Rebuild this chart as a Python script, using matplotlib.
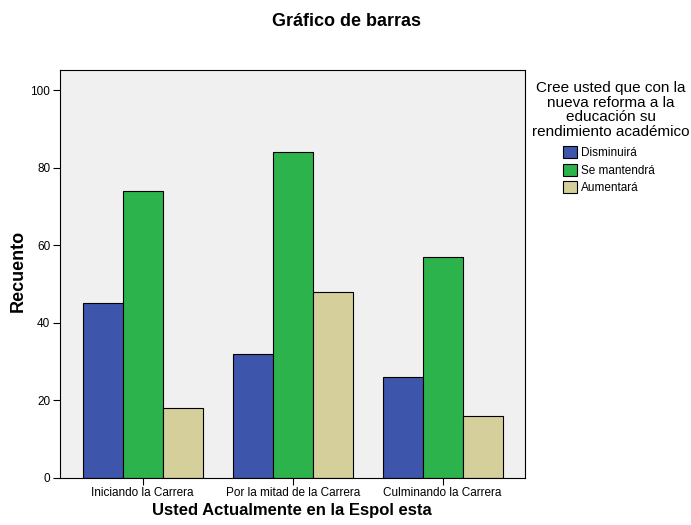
import numpy as np
import matplotlib
matplotlib.use('Agg')
import matplotlib.pyplot as plt

plt.rcParams['font.family'] = ['Liberation Sans', 'DejaVu Sans']

# Data
categories = ['Iniciando la Carrera', 'Por la mitad de la Carrera', 'Culminando la Carrera']
series_names = ['Disminuirá', 'Se mantendrá', 'Aumentará']
disminuira = [45, 32, 26]
se_mantendra = [74, 84, 57]
aumentara = [18, 48, 16]
colors = ['#3D55AB', '#2DB34B', '#D5D09B']

W, H = 691, 525
fig = plt.figure(figsize=(W / 100, H / 100), dpi=100)
ax = fig.add_axes([60 / W, 1 - 478 / H, 465 / W, 408 / H])
ax.set_facecolor('#F0F0F0')

x = np.arange(len(categories))
width = 0.2667
for i, (vals, name) in enumerate(zip([disminuira, se_mantendra, aumentara], series_names)):
    ax.bar(x + (i - 1) * width, vals, width, color=colors[i], edgecolor='black',
           linewidth=0.8, label=name, zorder=2)

ax.set_xlim(-0.551, 2.549)
ax.set_ylim(0, 105.2)
ax.set_xticks(x)
ax.set_xticklabels(categories, fontsize=8.5)
ax.set_yticks([0, 20, 40, 60, 80, 100])
ax.tick_params(axis='both', labelsize=8.5, length=5, width=0.8, pad=2)
ax.tick_params(axis='x', pad=1.5)
for s in ax.spines.values():
    s.set_linewidth(0.8)

ax.set_xlabel('Usted Actualmente en la Espol esta', fontsize=12, fontweight='bold', va='center')
ax.xaxis.set_label_coords(0.499, (478 - 510) / 408)
ax.set_ylabel('Recuento', fontsize=13, fontweight='bold', va='center')
ax.yaxis.set_label_coords((18 - 60) / 465, 0.507)
fig.text(347 / W, 1 - 22 / H, 'Gráfico de barras', ha='center', va='center',
         fontsize=13, fontweight='bold')

# legend title drawn separately, entries via ax.legend
fig.text(611 / W, 1 - 110 / H,
         'Cree usted que con la\nnueva reforma a la\neducación su\nrendimiento académico',
         ha='center', va='center', multialignment='center', fontsize=11, linespacing=1.05)
leg = ax.legend(loc='upper left', bbox_to_anchor=(563 / W, 1 - 146 / H),
                bbox_transform=fig.transFigure, frameon=False, fontsize=8.5,
                handlelength=1.2, handleheight=1.2, handletextpad=0.35,
                labelspacing=0.38, borderpad=0, borderaxespad=0)

fig.savefig('out.png', dpi=100)
